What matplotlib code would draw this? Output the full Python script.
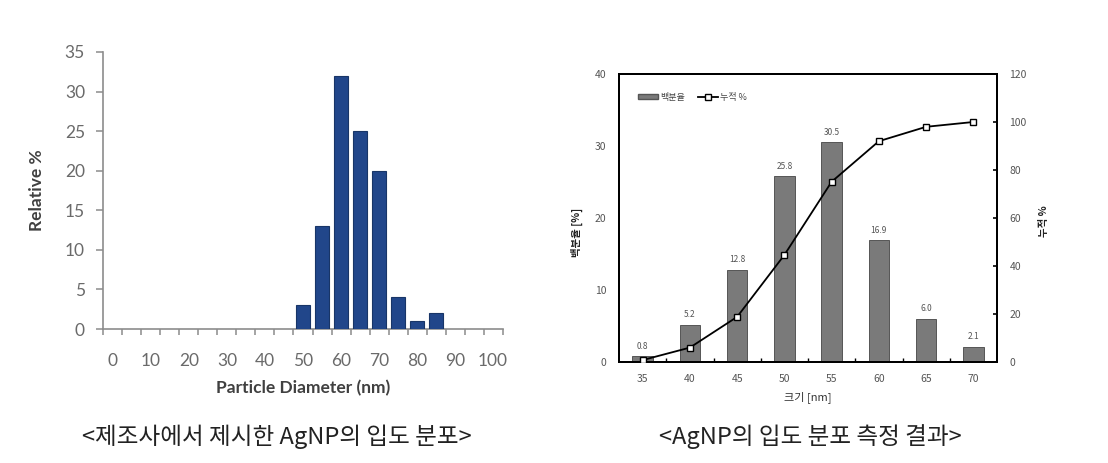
import matplotlib
matplotlib.use("Agg")
from matplotlib import pyplot as plt
from matplotlib.patches import Patch
from matplotlib.lines import Line2D

# left chart: manufacturer distribution
maker_diam = [50, 55, 60, 65, 70, 75, 80, 85]
maker_pct = [3, 13, 32, 25, 20, 4, 1, 2]
maker_xticks = list(range(0, 101, 10))
maker_yticks = list(range(0, 36, 5))

# right chart: measured distribution
size_nm = [35, 40, 45, 50, 55, 60, 65, 70]
percent = [0.8, 5.2, 12.8, 25.8, 30.5, 16.9, 6.0, 2.1]
cumulative = [0.8, 6.0, 18.8, 44.6, 75.1, 92.0, 98.0, 100.0]
pct_labels = ["0.8", "5.2", "12.8", "25.8", "30.5", "16.9", "6.0", "2.1"]

cap_left = "<제조사에서 제시한 AgNP의 입도 분포>"
cap_right = "<AgNP의 입도 분포 측정 결과>"

plt.rcParams["font.family"] = ["Noto Sans CJK KR", "DejaVu Sans"]

W, H = 1108, 463
fig = plt.figure(figsize=(W / 100, H / 100), dpi=100)

def box(x0, y0, x1, y1):
    return [x0 / W, 1 - y1 / H, (x1 - x0) / W, (y1 - y0) / H]

# ---- left chart
ax = fig.add_axes(box(103, 52, 503, 329))
ax.bar(maker_diam, maker_pct, width=3.9, color="#21468a", edgecolor="#183567", linewidth=0.8, zorder=3)
ax.set_xlim(-2.6, 102.6)
ax.set_ylim(0, 35)
ax.spines["top"].set_visible(False)
ax.spines["right"].set_visible(False)
for s in ["left", "bottom"]:
    ax.spines[s].set_color("#8c8c8c")
    ax.spines[s].set_linewidth(1.2)
ax.set_xticks(maker_xticks)
ax.set_xticks([x - 2.5 for x in range(0, 106, 5)], minor=True)
ax.set_yticks(maker_yticks)
ax.tick_params(axis="x", which="major", length=0, pad=17, labelsize=12.5, labelcolor="#6a6a6a")
ax.tick_params(axis="x", which="minor", length=4, width=1.1, color="#8c8c8c", direction="out")
ax.tick_params(axis="y", length=5, width=1.1, color="#8c8c8c", pad=8, labelsize=12.5, labelcolor="#6a6a6a")
for lab in ax.get_xticklabels() + ax.get_yticklabels():
    lab.set_family(["Lato", "DejaVu Sans"])
ax.set_xlabel("Particle Diameter (nm)", fontsize=12.5, fontweight="bold", color="#404040", family=["Lato", "DejaVu Sans"])
ax.set_ylabel("Relative %", fontsize=12.5, fontweight="bold", color="#404040", family=["Lato", "DejaVu Sans"])
ax.yaxis.set_label_coords(-0.145, 0.5)
ax.xaxis.set_label_coords((303 - 103) / 400, -0.185)

# ---- right chart
ax1 = fig.add_axes(box(619, 74, 997, 362))
ax1.bar(size_nm, percent, width=2.15, color="#7a7a7a", edgecolor="#555555", linewidth=0.7, zorder=2)
for x, v, t in zip(size_nm, percent, pct_labels):
    ax1.annotate(t, (x, v), xytext=(0, 4), textcoords="offset points", ha="center", va="bottom",
                 fontsize=6, color="#555555")
ax1.set_xlim(32.5, 72.5)
ax1.set_ylim(0, 40)
ax1.set_xticks(size_nm)
ax1.set_xticks([x + 2.5 for x in size_nm[:-1]], minor=True)
ax1.set_yticks([0, 10, 20, 30, 40])
ax1.tick_params(axis="x", which="major", length=0, pad=9, labelsize=7.5, labelcolor="#555555")
ax1.tick_params(axis="x", which="minor", length=3, width=1, direction="in")
ax1.tick_params(axis="y", length=0, pad=9, labelsize=7.5, labelcolor="#555555")
for s in ax1.spines.values():
    s.set_linewidth(1.4)
ax1.set_xlabel("크기 [nm]", fontsize=8, color="#333333")
ax1.xaxis.set_label_coords((808 - 619) / 378, -0.1)
ax1.set_ylabel("백분율 [%]", fontsize=7.5, fontweight="bold", color="#222222")
ax1.yaxis.set_label_coords(-0.095, 0.45)

ax2 = ax1.twinx()
ax2.plot(size_nm, cumulative, color="black", linewidth=1.3, marker="s", markersize=5,
         markerfacecolor="white", markeredgecolor="black", markeredgewidth=1, zorder=4)
ax2.set_ylim(0, 120)
ax2.set_yticks([0, 20, 40, 60, 80, 100, 120])
ax2.tick_params(axis="y", length=3, width=1.2, direction="in", pad=9, labelsize=7.5, labelcolor="#555555")
for s in ax2.spines.values():
    s.set_linewidth(1.4)
ax2.set_ylabel("누적 %", fontsize=7.5, fontweight="bold", color="#222222", rotation=90)
ax2.yaxis.set_label_coords(1.11, 0.49)

handles = [Patch(facecolor="#7a7a7a", edgecolor="#555555"),
           Line2D([0], [0], color="black", lw=1.3, marker="s", markersize=4.5,
                  markerfacecolor="white", markeredgecolor="black")]
ax2.legend(handles, ["백분율", "누적 %"], loc="center left", bbox_to_anchor=(0.03, 0.92), ncol=2,
           frameon=False, fontsize=6.5, handlelength=2.2, handleheight=0.5, handletextpad=0.2,
           columnspacing=1.5, labelcolor="#444444")

# captions
fig.text(277 / W, 1 - 437 / H, cap_left, ha="center", va="center", fontsize=17, color="#222222")
fig.text(810 / W, 1 - 437 / H, cap_right, ha="center", va="center", fontsize=17, color="#222222")

fig.savefig("out.png", dpi=100)
